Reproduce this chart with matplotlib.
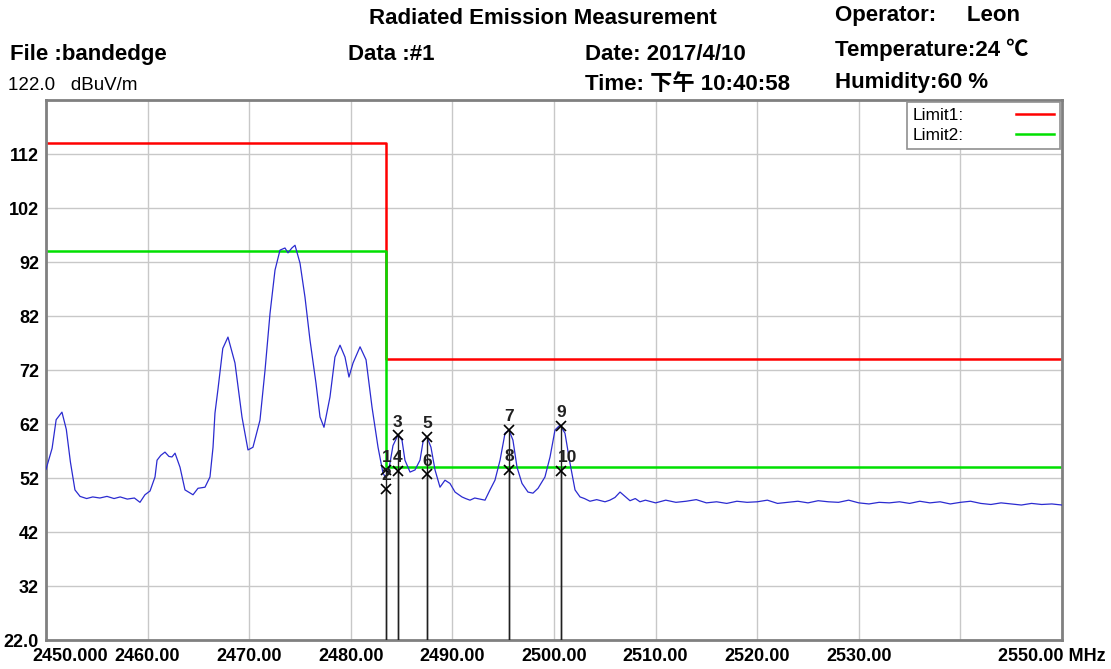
import matplotlib.pyplot as plt
import matplotlib.transforms as mtransforms

plt.rcParams['font.family'] = ['Liberation Sans', 'Noto Sans CJK SC', 'DejaVu Sans']

# measured trace (MHz, dBuV/m)
freq = [2450.00, 2450.60, 2451.00, 2451.57, 2452.00, 2452.40, 2452.85, 2453.35, 2454.00, 2454.60,
        2455.30, 2456.00, 2456.70, 2457.30, 2458.00, 2458.70, 2459.25, 2459.74, 2460.24, 2460.73,
        2460.93, 2461.30, 2461.71, 2462.10, 2462.40, 2462.70, 2463.19, 2463.68, 2464.47, 2464.96,
        2465.65, 2466.14, 2466.44, 2466.63, 2466.93, 2467.40, 2467.91, 2468.60, 2469.29, 2469.88,
        2470.37, 2471.06, 2471.56, 2472.05, 2472.54, 2473.03, 2473.52, 2473.82, 2474.20, 2474.51,
        2475.00, 2475.49, 2475.98, 2476.57, 2476.97, 2477.36, 2477.95, 2478.44, 2478.94, 2479.43,
        2479.82, 2480.22, 2480.91, 2481.50, 2482.09, 2482.68, 2483.17, 2483.46, 2483.66, 2483.86,
        2484.15, 2484.65, 2485.04, 2485.33, 2485.83, 2486.32, 2486.81, 2487.11, 2487.50, 2487.89,
        2488.29, 2488.78, 2489.27, 2489.76, 2490.26, 2490.94, 2491.30, 2491.73, 2492.20, 2492.72,
        2493.21, 2493.70, 2494.19, 2494.69, 2495.18, 2495.57, 2495.96, 2496.36, 2496.85, 2497.44,
        2497.93, 2498.43, 2499.11, 2499.61, 2500.10, 2500.59, 2501.08, 2501.57, 2502.07, 2502.56,
        2503.00, 2503.54, 2504.20, 2505.02, 2505.50, 2506.00, 2506.50, 2506.99, 2507.48, 2508.00,
        2508.46, 2509.0, 2510.0, 2511.0, 2512.0, 2513.0, 2514.0, 2515.0, 2516.0, 2517.0,
        2518.0, 2519.0, 2520.0, 2521.0, 2522.0, 2523.0, 2524.0, 2525.0, 2526.0, 2527.0,
        2528.0, 2529.0, 2530.0, 2531.0, 2532.0, 2533.0, 2534.0, 2535.0, 2536.0, 2537.0,
        2538.0, 2539.0, 2540.0, 2541.0, 2542.0, 2543.0, 2544.0, 2545.0, 2546.0, 2547.0,
        2548.0, 2549.0, 2550.0]
level = [53.6, 57.5, 62.8, 64.2, 61.0, 55.0, 49.8, 48.6, 48.2, 48.5,
         48.3, 48.6, 48.2, 48.5, 48.1, 48.3, 47.5, 48.9, 49.6, 52.2,
         55.3, 56.2, 56.8, 56.0, 55.9, 56.6, 54.0, 49.8, 48.9, 50.1,
         50.3, 52.2, 57.7, 64.0, 68.5, 76.0, 78.1, 73.3, 63.3, 57.2,
         57.7, 62.7, 72.0, 82.5, 90.5, 94.2, 94.6, 93.7, 94.6, 95.1,
         91.8, 85.5, 77.6, 69.6, 63.3, 61.4, 67.0, 74.4, 76.6, 74.4,
         70.7, 73.3, 76.3, 73.9, 65.1, 57.7, 52.9, 52.0, 53.1, 54.8,
         58.0, 60.0, 59.0, 55.3, 53.1, 53.5, 55.3, 58.7, 59.6, 57.7,
         53.5, 50.3, 51.6, 51.0, 49.4, 48.5, 48.2, 47.9, 48.3, 48.1,
         47.9, 49.8, 51.6, 55.3, 60.3, 60.9, 59.0, 54.0, 51.0, 49.4,
         49.2, 50.1, 52.2, 55.9, 60.9, 61.8, 60.3, 54.8, 49.8, 48.5,
         48.2, 47.7, 48.0, 47.6, 47.9, 48.4, 49.4, 48.6, 47.8, 48.2,
         47.6, 47.9, 47.4, 47.9, 47.5, 47.7, 48.0, 47.4, 47.6, 47.3,
         47.7, 47.5, 47.6, 47.9, 47.3, 47.5, 47.7, 47.4, 47.8, 47.6,
         47.5, 47.9, 47.4, 47.2, 47.5, 47.4, 47.6, 47.3, 47.7, 47.4,
         47.6, 47.2, 47.5, 47.7, 47.3, 47.1, 47.4, 47.2, 47.0, 47.3,
         47.1, 47.2, 47.0]

# limit lines (step at band edge)
limit_freq = [2450.0, 2483.5, 2550.0]
limit1 = [114, 74, 74]
limit2 = [94, 54, 54]

# markers
mk_no = ['1', '2', '3', '4', '5', '6', '7', '8', '9', '10']
mk_freq = [2483.5, 2483.5, 2484.6, 2484.6, 2487.5, 2487.5, 2495.6, 2495.6, 2500.7, 2500.7]
mk_level = [53.4, 50.0, 59.9, 53.3, 59.6, 52.7, 60.9, 53.5, 61.7, 53.3]

xticks = [2450, 2460, 2470, 2480, 2490, 2500, 2510, 2520, 2530, 2540, 2550]
xlabels = ['2450.000', '2460.00', '2470.00', '2480.00', '2490.00', '2500.00',
           '2510.00', '2520.00', '2530.00', '', '2550.00 MHz']
yticks = [22, 32, 42, 52, 62, 72, 82, 92, 102, 112]
ylabels = ['22.0', '32', '42', '52', '62', '72', '82', '92', '102', '112']

fig = plt.figure(figsize=(11.11, 6.69), dpi=100)
ax = fig.add_axes([0.0414, 0.0433, 0.9145, 0.8072])

ax.plot(freq, level, color='#2b2bd0', lw=0.9, zorder=3)
l1, = ax.step(limit_freq, limit1, where='post', color='#ff0000', lw=1.8, label='Limit1:', zorder=2)
l2, = ax.step(limit_freq, limit2, where='post', color='#00e000', lw=1.8, label='Limit2:', zorder=2)

ax.vlines(mk_freq, 22, mk_level, color='#202020', lw=1.0, zorder=4)
ax.plot(mk_freq, mk_level, 'x', color='black', ms=7, mew=1.2, zorder=5)
for n, f, v in zip(mk_no, mk_freq, mk_level):
    ax.annotate(n, (f, v), xytext=(-2 if n == '10' else 0, 4), textcoords='offset points',
                ha='left' if n == '10' else 'center', va='bottom', fontsize=12.5,
                fontweight='bold', color='#202020', zorder=6)

ax.set_xlim(2450, 2550)
ax.set_ylim(22, 122)
ax.set_xticks(xticks)
ax.set_xticklabels(xlabels, fontsize=13, fontweight='bold')
ax.set_yticks(yticks)
ax.set_yticklabels(ylabels, fontsize=13, fontweight='bold')
ax.tick_params(axis='x', length=0, pad=6)
ax.tick_params(axis='y', length=0, pad=5)
first = ax.get_xticklabels()[0]
first.set_transform(first.get_transform() + mtransforms.ScaledTranslation(0.24, 0, fig.dpi_scale_trans))
last = ax.get_xticklabels()[-1]
last.set_transform(last.get_transform() + mtransforms.ScaledTranslation(-0.1, 0, fig.dpi_scale_trans))

ax.grid(True, color='#c8c8c8', lw=1)
for s in ax.spines.values():
    s.set_color('#808080')
    s.set_linewidth(2)

leg = ax.legend(handles=[l1, l2], loc='upper right', markerfirst=False, fontsize=12.5,
                fancybox=False, edgecolor='#909090', framealpha=1, borderaxespad=0.1,
                handlelength=2.2, handletextpad=3.0, labelspacing=0.3, borderpad=0.35)
leg.get_frame().set_linewidth(1.2)

hdr = dict(ha='left', va='center', fontsize=16, fontweight='bold')
fig.text(0.489, 0.972, 'Radiated Emission Measurement', **{**hdr, 'ha': 'center'})
fig.text(0.752, 0.977, 'Operator:     Leon', **hdr)
fig.text(0.009, 0.918, 'File :bandedge', **hdr)
fig.text(0.313, 0.918, 'Data :#1', **hdr)
fig.text(0.527, 0.918, 'Date: 2017/4/10', **hdr)
fig.text(0.752, 0.925, 'Temperature:24 ℃', **hdr)
fig.text(0.007, 0.872, '122.0   dBuV/m', ha='left', va='center', fontsize=13.5)
fig.text(0.527, 0.874, 'Time: 下午 10:40:58', **hdr)
fig.text(0.752, 0.877, 'Humidity:60 %', **hdr)

fig.savefig('out.png', dpi=100)
